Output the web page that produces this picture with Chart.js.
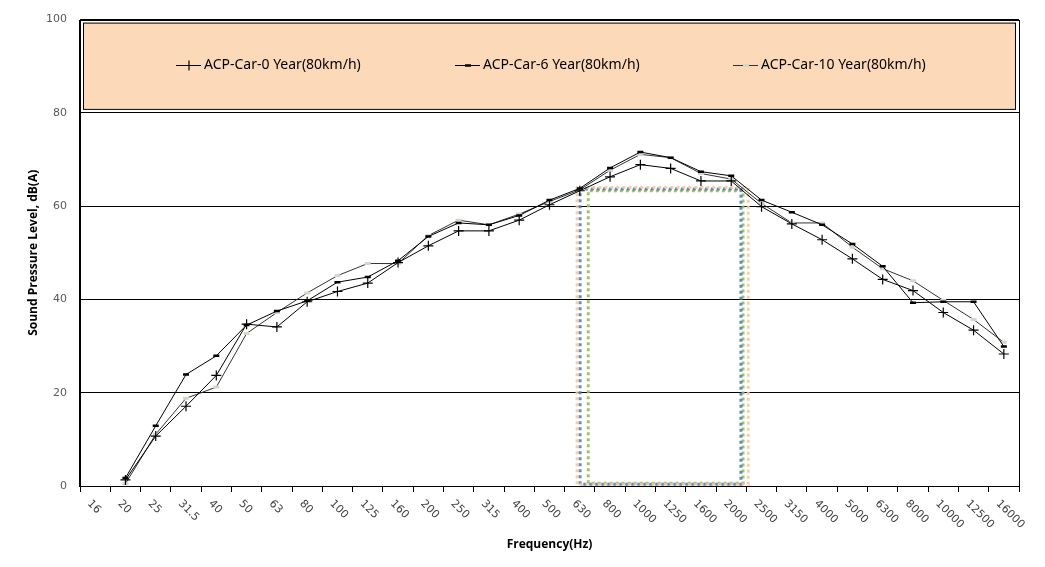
<!DOCTYPE html>
<html>
<head>
<meta charset="utf-8">
<title>Sound Pressure Level</title>
<script src="https://cdn.jsdelivr.net/npm/chart.js@4.4.1/dist/chart.umd.min.js"></script>
<style>
    body { margin: 0; background: #ffffff; }
    #wrap { width: 1045px; height: 567px; }
</style>
</head>
<body>
<div id="wrap"><canvas id="splChart" width="1045" height="567"></canvas></div>
<script>
// Chart data
const frequencies = ['16', '20', '25', '31.5', '40', '50', '63', '80', '100', '125', '160', '200', '250', '315', '400', '500',
    '630', '800', '1000', '1250', '1600', '2000', '2500', '3150', '4000', '5000', '6300', '8000', '10000', '12500', '16000'];

const year0 = [null, 1.3, 10.7, 17.1, 23.7, 34.7, 34.1, 39.5, 41.7, 43.5, 47.9, 51.5, 54.7, 54.7, 57.0, 60.3,
    63.3, 66.3, 68.9, 68.1, 65.4, 65.4, 59.9, 56.2, 52.8, 48.7, 44.3, 41.9, 37.2, 33.4, 28.3];
const year6 = [null, 1.7, 12.9, 23.9, 27.9, 34.5, 37.5, 39.7, 43.7, 44.8, 48.3, 53.5, 56.4, 56.0, 58.0, 61.3,
    63.8, 68.2, 71.6, 70.4, 67.4, 66.5, 61.3, 58.7, 56.0, 51.9, 47.1, 39.3, 39.5, 39.5, 29.9];
const year10 = [null, 0.5, 11.1, 18.8, 21.2, 32.7, 37.2, 41.4, 45.1, 47.7, 47.7, 53.7, 57.0, 56.0, 58.3, 61.0,
    63.5, 67.7, 71.1, 70.4, 67.0, 65.8, 60.6, 56.4, 56.4, 51.2, 46.6, 44.0, 39.8, 35.7, 30.8];

const seriesLabels = ['ACP-Car-0 Year(80km/h)', 'ACP-Car-6 Year(80km/h)', 'ACP-Car-10 Year(80km/h)'];
const yTicks = [0, 20, 40, 60, 80, 100];

// dotted boxes marking the 630-2000 Hz band (x in category index, y in dB)
const peachBoxX = [15.91, 21.56];
const peachBoxY = [0.4, 64.0];
const blueBoxX = [16.01, 21.32];
const blueBoxY = [0.4, 63.7];
const greenBoxX = [16.28, 21.39];
const greenBoxY = [0.6, 63.3];

const tickFont = '11px "DejaVu Sans"';
const legendFont = '14px "Noto Sans"';

document.addEventListener('DOMContentLoaded', function() {
    initializeChart();
});

function boxPoints(xs, ys) {
    return [
        { x: xs[0], y: ys[0] },
        { x: xs[0], y: ys[1] },
        { x: xs[1], y: ys[1] },
        { x: xs[1], y: ys[0] },
        { x: xs[0], y: ys[0] }
    ];
}

function boxDataset(xs, ys, color) {
    return {
        data: boxPoints(xs, ys),
        xAxisID: 'x2',
        borderColor: color,
        borderWidth: 3,
        borderDash: [3, 3],
        borderCapStyle: 'butt',
        pointRadius: 0,
        fill: false,
        tension: 0
    };
}

// plot area frame + peach legend panel
const framePlugin = {
    id: 'frame',
    beforeDatasetsDraw(chart) {
        const { ctx, chartArea: a, scales } = chart;
        const bottom = scales.y.getPixelForValue(80) - 4;
        ctx.save();
        ctx.fillStyle = '#fcdab9';
        ctx.fillRect(a.left + 3, a.top + 3, a.right - a.left - 6, bottom - a.top - 3);
        ctx.strokeStyle = '#000000';
        ctx.lineWidth = 1;
        ctx.strokeRect(a.left + 3.5, a.top + 3.5, a.right - a.left - 7, bottom - a.top - 3);
        ctx.strokeRect(Math.round(a.left) - 0.5, Math.round(a.top) + 0.5, Math.round(a.right - a.left) + 1, Math.round(a.bottom - a.top));
        ctx.restore();
    },
    afterDatasetsDraw(chart) {
        drawLegend(chart);
        drawXLabels(chart);
    }
};

function drawLegend(chart) {
    const { ctx } = chart;
    const starts = [176, 455, 733];
    const y = 65.5;
    ctx.save();
    ctx.font = legendFont;
    ctx.textBaseline = 'middle';
    ctx.textAlign = 'left';
    for (let i = 0; i < 3; i++) {
        const ds = chart.data.datasets[i];
        const x = starts[i];
        ctx.strokeStyle = ds.borderColor;
        ctx.lineWidth = 1;
        ctx.beginPath();
        ctx.moveTo(x, y);
        ctx.lineTo(x + 25, y);
        ctx.stroke();
        // marker in the middle of the sample line
        ctx.strokeStyle = ds.pointBorderColor;
        ctx.lineWidth = ds.pointBorderWidth;
        ctx.beginPath();
        if (ds.pointStyle === 'cross') {
            ctx.moveTo(x + 13, y - ds.pointRadius);
            ctx.lineTo(x + 13, y + ds.pointRadius);
        } else {
            ctx.moveTo(x + 13 - ds.pointRadius, y);
            ctx.lineTo(x + 13 + ds.pointRadius, y);
        }
        ctx.stroke();
        ctx.fillStyle = '#000000';
        ctx.fillText(ds.label, x + 28, y);
    }
    ctx.restore();
}

// x tick labels run downwards to the right
function drawXLabels(chart) {
    const { ctx, chartArea: a, scales } = chart;
    ctx.save();
    ctx.font = tickFont;
    ctx.fillStyle = '#404040';
    ctx.textAlign = 'left';
    ctx.textBaseline = 'middle';
    frequencies.forEach((label, i) => {
        const x = scales.x.getPixelForValue(i);
        ctx.save();
        ctx.translate(x - 6, a.bottom + 16);
        ctx.rotate(Math.PI / 4);
        ctx.fillText(label, 0, 0);
        ctx.restore();
    });
    ctx.restore();
}

function initializeChart() {
    const ctx = document.getElementById('splChart').getContext('2d');
    new Chart(ctx, {
        type: 'line',
        data: {
            labels: frequencies,
            datasets: [{
                label: seriesLabels[0],
                data: year0,
                borderColor: '#000000',
                borderWidth: 1,
                pointStyle: 'cross',
                pointRadius: 5,
                pointBorderColor: '#000000',
                pointBorderWidth: 1.2,
                tension: 0
            }, {
                label: seriesLabels[1],
                data: year6,
                borderColor: '#000000',
                borderWidth: 1,
                pointStyle: 'line',
                pointRadius: 3,
                pointBorderColor: '#000000',
                pointBorderWidth: 2.5,
                tension: 0
            }, {
                label: seriesLabels[2],
                data: year10,
                borderColor: '#333333',
                borderWidth: 1,
                pointStyle: 'line',
                pointRadius: 3,
                pointBorderColor: '#d6d6c8',
                pointBorderWidth: 3,
                tension: 0
            },
            boxDataset(peachBoxX, peachBoxY, 'rgba(248, 196, 150, 0.85)'),
            boxDataset(blueBoxX, blueBoxY, 'rgba(79, 129, 189, 0.9)'),
            boxDataset(greenBoxX, greenBoxY, 'rgba(155, 187, 89, 0.9)')]
        },
        options: {
            responsive: false,
            animation: false,
            layout: { padding: { top: 17, right: 26, left: 0, bottom: 0 } },
            plugins: {
                legend: { display: false },
                tooltip: { enabled: false }
            },
            scales: {
                x: {
                    offset: true,
                    grid: { offset: true, drawOnChartArea: false, color: '#000000', tickLength: 6 },
                    border: { color: '#000000' },
                    ticks: { display: false },
                    title: {
                        display: true,
                        text: 'Frequency(Hz)',
                        color: '#000000',
                        font: { family: 'Open Sans', size: 12, weight: 'bold' },
                        padding: { top: 0, bottom: 15 }
                    },
                    afterFit(scale) { scale.height = 81; }
                },
                x2: {
                    type: 'linear',
                    display: false,
                    min: -0.5,
                    max: frequencies.length - 0.5
                },
                y: {
                    min: yTicks[0],
                    max: yTicks[yTicks.length - 1],
                    afterBuildTicks(scale) {
                        scale.ticks = yTicks.map(v => ({ value: v }));
                    },
                    grid: { color: '#000000', drawTicks: false },
                    border: { color: '#000000' },
                    ticks: {
                        padding: 13,
                        color: '#595959',
                        font: { family: 'DejaVu Sans', size: 11 }
                    },
                    title: {
                        display: true,
                        text: 'Sound Pressure Level, dB(A)',
                        color: '#000000',
                        font: { family: 'Open Sans', size: 12, weight: 'bold' },
                        padding: { top: 26, bottom: 0 }
                    },
                    afterFit(scale) { scale.width = 80; }
                }
            }
        },
        plugins: [framePlugin]
    });
}
</script>
</body>
</html>
